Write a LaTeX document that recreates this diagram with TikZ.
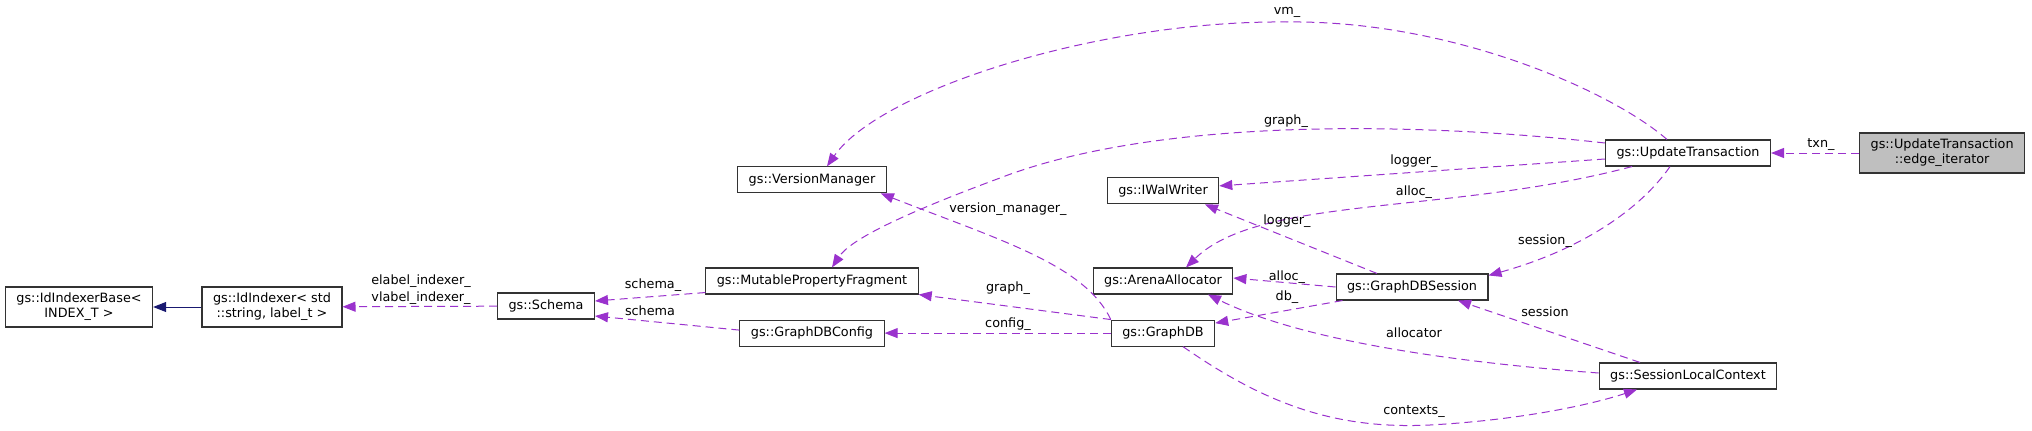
\documentclass[tikz,border=0pt]{standalone}
\usepackage{fontspec}
\setmainfont{DejaVu Sans}
\usetikzlibrary{arrows.meta,positioning}
\definecolor{deppurple}{HTML}{9A32CD}
\definecolor{inhnavy}{HTML}{191970}

\begin{document}
\begin{tikzpicture}[x=1pt, y=-1pt, >={Triangle[length=13pt,width=10pt]},
  every node/.style={font=\fontsize{12.8}{15}\selectfont, align=center},
  box/.style={draw=black!80, line width=1.1pt, minimum height=26pt, inner xsep=11pt, inner ysep=0pt},
  tallbox/.style={box, minimum height=40pt},
  curbox/.style={tallbox, fill=gray!50},
  dep/.style={->, draw=deppurple, line width=1pt, dash pattern=on 8pt off 5pt},
  inh/.style={->, draw=inhnavy, line width=1pt},
  lab/.style={inner sep=1pt, font=\fontsize{12.8}{17}\selectfont}]
  \useasboundingbox (0,0) rectangle (2032,431);

  % classes
  \node[tallbox] (idxbase) at (79,307) {gs::IdIndexerBase<\\INDEX\_T >};
  \node[tallbox] (idx) at (272,307) {gs::IdIndexer< std\\::string, label\_t >};
  \node[box] (schema) at (546,306) {gs::Schema};
  \node[box] (mpf) at (812,281) {gs::MutablePropertyFragment};
  \node[box, above=74pt of mpf] (vm) {gs::VersionManager};
  \node[box, below=25pt of mpf] (gdbc) {gs::GraphDBConfig};
  \node[box] (aa) at (1163,281) {gs::ArenaAllocator};
  \node[box, above=63pt of aa] (iww) {gs::IWalWriter};
  \node[box, below=25pt of aa] (gdb) {gs::GraphDB};
  \node[box] (gdbs) at (1412,287) {gs::GraphDBSession};
  \node[box] (ut) at (1688,153) {gs::UpdateTransaction};
  \node[curbox, right=88pt of ut] (edgeit) {gs::UpdateTransaction\\::edge\_iterator};
  \node[box] (slc) at (1688,376) {gs::SessionLocalContext};

  % inheritance and usage
  \draw[inh] (idx) -- (idxbase);
  \draw[dep] (schema) -- (idx);
  \draw[dep] ([yshift=2pt]mpf.south west) -- ([yshift=5pt]schema.east);
  \draw[dep] ([yshift=3pt]gdbc.west) -- ([yshift=-10pt]schema.east);
  \draw[dep] (gdb) -- (gdbc);
  \draw[dep] (gdb.north west) -- (mpf.south east);
  \draw[dep] (gdb.north west) .. controls (1085,265) and (1000,240) .. ([xshift=-6pt]vm.south east);
  \draw[dep] ([xshift=-21pt]ut.north) .. controls (1610,90) and (1450,20) .. (1287,22)
    .. controls (1100,20) and (880,90) .. ([xshift=15pt]vm.north);
  \draw[dep] ([yshift=10pt]ut.west) .. controls (1400,120) and (1150,120) .. (1000,178)
    .. controls (900,215) and (850,240) .. ([xshift=20pt]mpf.north);
  \draw[dep] ([yshift=-6pt]ut.west) -- ([yshift=5pt]iww.east);
  \draw[dep] ([xshift=-56pt]ut.south) .. controls (1450,215) and (1260,195) .. ([xshift=23pt]aa.north);
  \draw[dep] ([xshift=-18pt]ut.south) .. controls (1640,210) and (1580,250) .. ([yshift=-2pt]gdbs.north east);
  \draw[dep] (edgeit) -- (ut);
  \draw[dep] ([xshift=-35pt]gdbs.north) -- ([xshift=42pt]iww.south);
  \draw[dep] (gdbs.west) -- ([yshift=3pt]aa.east);
  \draw[dep] ([xshift=7pt]gdbs.south west) -- ([yshift=10pt]gdb.east);
  \draw[dep] ([yshift=3pt]slc.west) .. controls (1450,362) and (1300,340) .. ([xshift=45pt]aa.south);
  \draw[dep] ([xshift=-48pt]slc.north) -- ([xshift=46pt]gdbs.south);
  \draw[dep] ([xshift=20pt]gdb.south) .. controls (1260,400) and (1330,430) .. (1430,425)
    .. controls (1520,420) and (1590,405) .. ([xshift=-51pt]slc.south);

  % member names
  \node[lab] (lidx) at (421,290) {elabel\_indexer\_\\vlabel\_indexer\_};
  \node[lab] (lschema) at (653,285) {schema\_};
  \node[lab] (lschemacfg) at (650,311) {schema};
  \node[lab] (lvmgr) at (1008,209) {version\_manager\_};
  \node[lab] (lgraphdb) at (1008,288) {graph\_};
  \node[lab] (lconfig) at (1008,324) {config\_};
  \node[lab] (lvm) at (1287,12) {vm\_};
  \node[lab] (lgraph) at (1286,121) {graph\_};
  \node[lab] (llogger) at (1414,161) {logger\_};
  \node[lab] (lalloc) at (1414,192) {alloc\_};
  \node[lab] (lsession) at (1545,241) {session\_};
  \node[lab] (ltxn) at (1821,145) {txn\_};
  \node[lab] (lloggersess) at (1287,221) {logger\_};
  \node[lab] (lallocsess) at (1287,277) {alloc\_};
  \node[lab] (ldb) at (1287,297) {db\_};
  \node[lab] (lsessctx) at (1545,312) {session};
  \node[lab] (lallocator) at (1414,333) {allocator};
  \node[lab] (lcontexts) at (1414,412) {contexts\_};
\end{tikzpicture}
\end{document}
